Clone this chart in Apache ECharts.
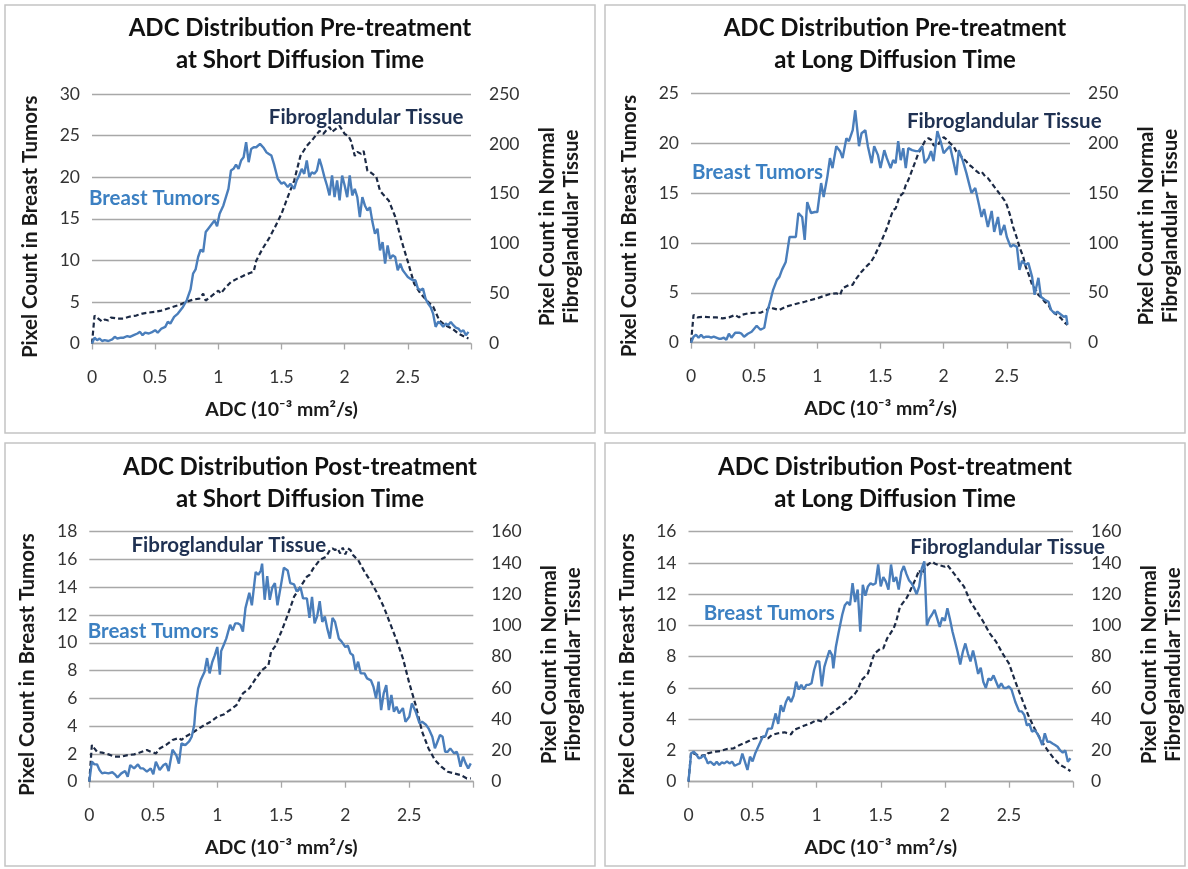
<!DOCTYPE html>
<html><head><meta charset="utf-8">
<script src="https://cdn.jsdelivr.net/npm/echarts@6/dist/echarts.min.js"></script>
<style>html,body{margin:0;padding:0;background:#fff}#c{width:1188px;height:869px}</style>
</head><body><div id="c"></div>
<script>
// ---- tick values for x axis (ADC, 10^-3 mm^2/s)
const xTicks = [0, 0.5, 1, 1.5, 2, 2.5, 3];

// ---- Panel 1: Pre-treatment, short diffusion time
const preShortTumor = [[0,0],[0.02,0.7],[0.04,0.4],[0.06,0.6],[0.08,0.3],[0.1,0.4],[0.13,0.3],[0.16,0.5],[0.18,0.8],[0.2,0.6],[0.23,0.7],[0.25,0.7],[0.28,0.9],[0.3,0.8],[0.33,1.0],[0.36,1.2],[0.38,1.4],[0.4,1.0],[0.42,1.3],[0.45,1.2],[0.48,1.4],[0.5,1.6],[0.52,1.3],[0.55,1.8],[0.58,2.0],[0.6,2.6],[0.62,2.4],[0.65,3.2],[0.68,3.6],[0.7,4.0],[0.72,4.4],[0.75,5.2],[0.78,6.5],[0.8,8.4],[0.82,8.9],[0.84,10.4],[0.86,11.3],[0.88,11.0],[0.9,13.4],[0.92,13.8],[0.95,14.4],[0.97,14.8],[0.99,14.1],[1.01,15.6],[1.04,16.6],[1.06,17.6],[1.08,18.6],[1.1,20.8],[1.12,21.0],[1.14,21.5],[1.16,21.0],[1.18,22.0],[1.2,22.4],[1.22,24.2],[1.24,21.8],[1.26,23.4],[1.28,23.6],[1.3,23.6],[1.33,24.0],[1.36,23.5],[1.38,23.0],[1.4,22.8],[1.42,22.6],[1.44,21.6],[1.47,19.8],[1.5,19.2],[1.52,19.4],[1.55,18.8],[1.57,19.2],[1.6,18.6],[1.62,19.6],[1.64,20.2],[1.66,21.0],[1.68,20.4],[1.7,22.0],[1.72,20.0],[1.74,20.6],[1.76,20.4],[1.78,20.8],[1.8,22.2],[1.82,21.2],[1.84,20.0],[1.86,19.0],[1.88,17.8],[1.9,20.2],[1.92,17.6],[1.94,19.6],[1.96,17.2],[1.98,20.2],[2.0,19.0],[2.02,17.6],[2.04,20.2],[2.06,17.8],[2.08,18.6],[2.1,17.6],[2.12,15.2],[2.14,17.6],[2.16,16.6],[2.18,16.0],[2.2,16.4],[2.22,14.6],[2.24,13.2],[2.26,13.8],[2.28,11.2],[2.3,12.2],[2.32,9.6],[2.34,11.8],[2.36,10.2],[2.38,10.6],[2.4,10.4],[2.42,8.8],[2.44,9.6],[2.46,8.8],[2.48,8.4],[2.5,8.0],[2.52,7.8],[2.54,7.6],[2.56,7.6],[2.58,6.6],[2.6,6.4],[2.62,6.6],[2.64,5.4],[2.66,4.8],[2.68,4.4],[2.7,3.6],[2.72,2.0],[2.74,2.6],[2.76,2.4],[2.78,2.0],[2.8,2.4],[2.82,2.2],[2.84,2.6],[2.86,2.2],[2.88,1.9],[2.9,1.8],[2.92,1.4],[2.94,1.6],[2.96,1.0],[2.98,1.4]];
const preShortFibro = [[0,0],[0.02,28],[0.05,25],[0.08,22],[0.1,24],[0.13,23],[0.15,26],[0.2,25],[0.25,25],[0.3,27],[0.35,28],[0.4,30],[0.45,31],[0.5,31.7],[0.55,33],[0.6,35],[0.65,37],[0.7,39],[0.75,42],[0.8,44],[0.85,45],[0.88,50],[0.9,43],[0.95,48],[1.0,53],[1.02,50],[1.05,55],[1.1,61.7],[1.15,65],[1.2,68],[1.25,70.7],[1.28,72],[1.3,83],[1.35,95],[1.4,105],[1.45,117],[1.5,130],[1.55,147],[1.6,163],[1.65,188],[1.7,198],[1.75,205],[1.8,213],[1.83,210],[1.85,213],[1.88,217],[1.9,212],[1.93,215],[1.96,218],[2.0,210],[2.03,208],[2.05,203],[2.08,188],[2.1,192],[2.13,190],[2.15,193],[2.18,173],[2.2,172],[2.25,167],[2.28,153],[2.3,150],[2.35,143],[2.4,127],[2.45,103],[2.5,82],[2.55,60],[2.6,50],[2.65,43],[2.7,37],[2.75,23],[2.8,18],[2.85,15],[2.9,10],[2.95,6.7],[2.98,5]];

// ---- Panel 2: Pre-treatment, long diffusion time
const preLongTumor = [[0,0],[0.02,0.6],[0.04,0.8],[0.06,0.5],[0.08,0.8],[0.1,0.5],[0.12,0.6],[0.14,0.6],[0.16,0.5],[0.18,0.6],[0.2,0.5],[0.22,0.4],[0.24,0.4],[0.26,0.5],[0.28,0.3],[0.3,0.9],[0.32,0.5],[0.35,1.0],[0.38,1.0],[0.4,0.9],[0.42,0.6],[0.45,0.9],[0.48,1.1],[0.5,1.4],[0.52,1.7],[0.55,1.3],[0.58,1.5],[0.6,2.9],[0.63,4.3],[0.65,5.3],[0.68,6.3],[0.7,6.6],[0.72,7.3],[0.75,8.1],[0.78,10.6],[0.8,10.6],[0.83,10.6],[0.85,13.0],[0.88,12.6],[0.9,10.3],[0.92,14.1],[0.95,13.0],[0.98,13.1],[1.0,13.1],[1.03,16.0],[1.05,14.6],[1.08,16.7],[1.1,18.5],[1.12,17.5],[1.15,19.7],[1.18,19.2],[1.2,18.5],[1.23,20.5],[1.25,20.2],[1.28,21.3],[1.3,23.3],[1.33,19.7],[1.35,21.0],[1.38,21.3],[1.4,19.7],[1.43,18.0],[1.45,19.7],[1.48,18.8],[1.5,17.5],[1.53,19.3],[1.55,18.5],[1.58,17.5],[1.6,18.3],[1.62,18.0],[1.64,20.2],[1.66,18.3],[1.68,19.5],[1.7,17.5],[1.72,19.5],[1.75,19.3],[1.78,19.2],[1.8,19.2],[1.83,19.7],[1.85,18.0],[1.88,18.5],[1.9,19.2],[1.92,18.2],[1.95,21.2],[1.98,20.0],[2.0,19.0],[2.02,19.3],[2.05,19.7],[2.08,18.0],[2.1,16.8],[2.12,19.3],[2.15,18.3],[2.18,17.0],[2.2,16.0],[2.22,15.0],[2.25,15.5],[2.28,13.8],[2.3,12.6],[2.32,13.4],[2.35,11.6],[2.38,13.2],[2.4,11.1],[2.43,12.6],[2.45,10.8],[2.48,11.8],[2.5,10.6],[2.53,9.6],[2.55,9.8],[2.58,9.6],[2.6,7.3],[2.62,8.2],[2.65,7.8],[2.67,8.0],[2.7,6.6],[2.72,4.8],[2.75,6.5],[2.77,4.6],[2.8,4.3],[2.83,4.1],[2.85,3.3],[2.88,2.9],[2.9,3.1],[2.93,2.8],[2.95,2.6],[2.97,2.7],[2.98,1.8]];
const preLongFibro = [[0,0],[0.02,27.8],[0.05,25.4],[0.1,26],[0.15,25.5],[0.2,25.4],[0.25,24.4],[0.3,25.4],[0.35,27.8],[0.38,25.4],[0.4,27.8],[0.45,29.4],[0.5,30],[0.55,30],[0.6,32.8],[0.62,36],[0.65,34.4],[0.7,32.8],[0.75,36],[0.8,37.8],[0.85,39.5],[0.9,41],[0.95,42.8],[1.0,44.5],[1.05,46.8],[1.1,48.8],[1.15,49.5],[1.18,47.8],[1.2,54.5],[1.25,57.9],[1.28,58],[1.3,62.9],[1.35,71.2],[1.4,78],[1.42,80],[1.45,86.3],[1.5,99.7],[1.55,114.7],[1.58,126],[1.6,133],[1.62,134.5],[1.65,146.5],[1.68,150],[1.7,158],[1.72,163],[1.75,173],[1.78,183],[1.8,190],[1.83,196.7],[1.85,201.7],[1.88,205],[1.9,203.5],[1.92,198],[1.95,196.7],[1.97,201.7],[2.0,206],[2.02,204],[2.05,200],[2.08,196.7],[2.1,191.6],[2.12,190],[2.15,185],[2.18,181.6],[2.2,178.3],[2.22,176.6],[2.25,173],[2.28,170],[2.3,171.5],[2.33,166.5],[2.35,165],[2.38,160],[2.4,156.5],[2.43,151.5],[2.45,148],[2.48,143],[2.5,138],[2.53,126],[2.55,116],[2.58,104.7],[2.6,96],[2.63,86],[2.65,76],[2.68,66],[2.7,58],[2.73,53],[2.75,47.8],[2.78,44.5],[2.8,41],[2.83,37.8],[2.85,32.8],[2.88,29.4],[2.9,27.8],[2.93,24.4],[2.95,21],[2.98,17.7]];

// ---- Panel 3: Post-treatment, short diffusion time
const postShortTumor = [[0,0],[0.02,1.44],[0.04,1.25],[0.06,1.25],[0.08,0.84],[0.1,0.6],[0.12,0.65],[0.15,0.6],[0.18,0.68],[0.2,0.53],[0.22,0.3],[0.25,0.6],[0.28,0.77],[0.3,0.36],[0.32,1.2],[0.35,0.96],[0.38,1.25],[0.4,0.96],[0.42,0.96],[0.45,0.72],[0.48,0.96],[0.5,0.53],[0.52,1.44],[0.55,0.84],[0.58,1.2],[0.6,1.3],[0.62,0.77],[0.65,2.3],[0.68,1.9],[0.7,1.3],[0.72,2.76],[0.75,2.64],[0.78,2.9],[0.8,3.24],[0.82,4.1],[0.83,5.3],[0.85,6.7],[0.87,7.3],[0.88,7.4],[0.9,7.9],[0.92,8.9],[0.94,7.8],[0.96,8.6],[0.98,9.1],[1.0,9.7],[1.02,7.7],[1.03,9.4],[1.05,9.84],[1.07,10.3],[1.1,11.3],[1.12,10.9],[1.14,11.4],[1.16,11.4],[1.18,11.3],[1.2,10.8],[1.22,12.5],[1.25,13.6],[1.27,12.7],[1.3,15.1],[1.32,14.9],[1.34,15.2],[1.35,15.7],[1.37,13.1],[1.39,14.8],[1.41,13.1],[1.43,14.0],[1.45,14.3],[1.47,12.7],[1.5,14.3],[1.52,15.4],[1.55,15.2],[1.57,14.3],[1.6,14.2],[1.62,13.7],[1.65,14.0],[1.67,13.2],[1.7,13.2],[1.72,11.8],[1.74,13.3],[1.76,11.4],[1.78,11.9],[1.8,13.0],[1.82,11.5],[1.84,11.9],[1.86,11.0],[1.88,10.3],[1.9,11.8],[1.92,11.5],[1.95,10.3],[1.97,10.1],[2.0,9.7],[2.02,9.8],[2.04,9.24],[2.06,9.1],[2.08,8.04],[2.1,8.64],[2.12,7.8],[2.15,7.8],[2.17,7.44],[2.2,7.3],[2.22,6.84],[2.24,6.0],[2.26,7.2],[2.28,5.16],[2.3,6.36],[2.32,6.96],[2.34,5.16],[2.36,6.24],[2.38,5.04],[2.4,5.4],[2.42,4.92],[2.45,5.3],[2.47,4.32],[2.5,4.68],[2.52,5.64],[2.55,5.04],[2.58,4.2],[2.6,4.32],[2.63,4.1],[2.65,3.84],[2.68,3.24],[2.7,2.4],[2.72,2.88],[2.74,3.36],[2.76,3.24],[2.78,2.16],[2.8,2.16],[2.82,2.4],[2.85,2.04],[2.87,2.16],[2.88,1.92],[2.9,1.08],[2.92,1.8],[2.94,1.32],[2.96,0.96],[2.98,1.32]];
const postShortFibro = [[0,0],[0.02,23.5],[0.03,23.5],[0.04,21.3],[0.06,19.2],[0.08,18.8],[0.1,18.6],[0.15,17.5],[0.2,16],[0.25,16],[0.3,17],[0.35,17.5],[0.4,18.8],[0.45,20.3],[0.48,19.2],[0.5,18.8],[0.52,18],[0.55,21.3],[0.6,23.5],[0.65,26.7],[0.7,28],[0.72,26.7],[0.75,28.8],[0.8,31],[0.85,33.7],[0.9,36.3],[0.95,38.4],[1.0,41.6],[1.05,43],[1.08,44.8],[1.1,45.9],[1.15,49],[1.2,56.5],[1.25,59.7],[1.3,66],[1.35,71.5],[1.4,74.7],[1.42,83.2],[1.45,86.4],[1.5,96],[1.55,106.7],[1.6,118.4],[1.65,124.8],[1.7,131.2],[1.72,132.3],[1.75,136.5],[1.8,141.9],[1.85,144],[1.88,148.3],[1.9,149.3],[1.92,148.3],[1.94,149.3],[1.96,146.1],[1.98,149.8],[2.0,145.5],[2.02,149.3],[2.04,148.3],[2.06,145.1],[2.08,143.4],[2.1,141.9],[2.15,134.4],[2.2,128],[2.25,120.5],[2.3,112],[2.35,101.3],[2.4,90.7],[2.45,79],[2.5,63],[2.55,49],[2.6,32],[2.65,21.3],[2.7,13.9],[2.75,9.6],[2.8,6.4],[2.85,5.3],[2.9,4.3],[2.95,2.1],[2.98,2.1]];

// ---- Panel 4: Post-treatment, long diffusion time
const postLongTumor = [[0,0],[0.02,1.8],[0.04,1.92],[0.06,1.75],[0.08,1.5],[0.1,1.55],[0.12,1.7],[0.14,1.4],[0.15,1.17],[0.17,1.28],[0.2,1.07],[0.22,1.28],[0.24,1.07],[0.26,1.24],[0.28,1.17],[0.3,1.3],[0.32,1.17],[0.34,1.28],[0.36,1.02],[0.38,1.1],[0.4,1.17],[0.42,1.8],[0.44,1.28],[0.46,0.75],[0.48,1.6],[0.5,1.3],[0.52,1.8],[0.55,2.35],[0.58,2.9],[0.6,2.9],[0.62,3.4],[0.65,3.4],[0.68,4.37],[0.7,3.7],[0.72,4.9],[0.74,4.48],[0.76,5.1],[0.78,5.44],[0.8,5.1],[0.82,5.5],[0.84,6.4],[0.86,5.9],[0.88,6.2],[0.9,5.9],[0.92,6.2],[0.94,6.2],[0.96,6.3],[0.98,7.15],[1.0,7.7],[1.02,7.7],[1.04,6.1],[1.06,7.35],[1.08,7.9],[1.1,8.4],[1.12,8.1],[1.13,7.25],[1.15,8.64],[1.17,9.5],[1.2,10.7],[1.22,11.3],[1.24,11.5],[1.26,11.3],[1.28,12.7],[1.3,11.5],[1.32,12.3],[1.34,9.6],[1.36,12.6],[1.38,11.9],[1.4,12.5],[1.42,12.7],[1.44,12.6],[1.46,12.7],[1.48,13.9],[1.5,12.5],[1.52,13.1],[1.54,12.8],[1.56,12.3],[1.58,13.9],[1.6,12.8],[1.62,13.1],[1.64,12.3],[1.66,13.4],[1.68,13.8],[1.7,13.3],[1.72,12.9],[1.74,12.7],[1.76,12.4],[1.78,12.0],[1.8,12.5],[1.82,13.65],[1.84,14.1],[1.86,10.0],[1.88,10.45],[1.9,10.7],[1.92,11.0],[1.94,10.45],[1.96,9.9],[1.98,10.5],[2.0,10.3],[2.02,11.1],[2.04,10.4],[2.06,9.6],[2.08,8.96],[2.1,8.3],[2.12,7.5],[2.14,8.3],[2.16,8.85],[2.18,8.2],[2.2,7.7],[2.22,8.4],[2.24,7.7],[2.26,6.9],[2.28,7.3],[2.3,6.4],[2.32,6.0],[2.34,6.6],[2.36,6.5],[2.38,6.8],[2.4,6.4],[2.42,6.0],[2.44,6.3],[2.46,6.0],[2.48,6.0],[2.5,6.1],[2.52,5.9],[2.55,5.1],[2.58,4.5],[2.6,4.5],[2.62,4.27],[2.64,3.6],[2.66,3.7],[2.68,3.2],[2.7,3.3],[2.72,3.1],[2.74,2.77],[2.76,2.35],[2.78,3.1],[2.8,2.56],[2.82,2.56],[2.84,2.45],[2.86,2.35],[2.88,2.24],[2.9,2.0],[2.92,1.86],[2.94,2.0],[2.96,1.28],[2.98,1.5]];
const postLongFibro = [[0,0],[0.02,18.8],[0.04,18.1],[0.06,17.5],[0.08,16.6],[0.1,16.6],[0.12,17],[0.14,16.6],[0.15,18.1],[0.2,19.2],[0.25,19.6],[0.3,20.9],[0.35,21.3],[0.4,23.5],[0.45,25.2],[0.5,27.3],[0.55,28.2],[0.6,28.8],[0.62,27.7],[0.65,29.9],[0.7,31],[0.75,31.6],[0.8,30.3],[0.82,33],[0.85,34.1],[0.9,35.8],[0.95,37.3],[1.0,39.5],[1.05,38.4],[1.08,41.6],[1.1,42.7],[1.15,45.9],[1.2,49],[1.25,52.3],[1.3,56.5],[1.32,58.7],[1.35,65],[1.4,69.3],[1.45,82],[1.5,85.3],[1.52,85.3],[1.55,91.7],[1.6,98],[1.62,102.4],[1.65,112],[1.7,117.3],[1.72,120.5],[1.75,125.9],[1.78,131.2],[1.8,135.5],[1.82,132.3],[1.85,137.6],[1.88,139.7],[1.9,140.8],[1.92,139.7],[1.95,138.7],[2.0,137.6],[2.02,138.7],[2.05,135.5],[2.1,130.1],[2.15,124.8],[2.2,115.2],[2.25,108.8],[2.3,102.4],[2.35,94.9],[2.4,89.6],[2.45,82.1],[2.5,75.7],[2.55,64],[2.6,53.3],[2.65,42.7],[2.7,34.1],[2.75,26.7],[2.8,20.3],[2.85,14.9],[2.9,10.7],[2.95,8.5],[2.98,6.8]];

// ---- axis ranges [max, interval] for left / right axes
const leftAxisMax = [30, 25, 18, 16];
const leftAxisStep = [5, 5, 2, 2];
const rightAxisMax = [250, 250, 160, 160];
const rightAxisStep = [50, 50, 20, 20];

const titles = [
  'ADC Distribution Pre-treatment\nat Short Diffusion Time',
  'ADC Distribution Pre-treatment\nat Long Diffusion Time',
  'ADC Distribution Post-treatment\nat Short Diffusion Time',
  'ADC Distribution Post-treatment\nat Long Diffusion Time'
];
const tumorSeries = [preShortTumor, preLongTumor, postShortTumor, postLongTumor];
const fibroSeries = [preShortFibro, preLongFibro, postShortFibro, postLongFibro];
// label anchor positions in data units: [x, y(left axis)] and [x, y(right axis)]
const tumorLabelAt = [[0.495, 17.5], [0.526, 17.1], [0.5, 10.8], [0.63, 10.78]];
const fibroLabelAt = [[2.17, 226.5], [2.48, 221.5], [1.09, 151], [2.49, 150]];

// ---- layout (pixels)
const grids = [
  {left: 92, top: 94, width: 379, height: 249.5},
  {left: 691, top: 93.3, width: 379, height: 249.4},
  {left: 89.3, top: 531.7, width: 384, height: 250},
  {left: 688.5, top: 531.7, width: 384.5, height: 250}
];
const panels = [
  {x: 5, y: 5, w: 590, h: 428},
  {x: 605, y: 5, w: 580, h: 428},
  {x: 5, y: 443, w: 590, h: 423},
  {x: 605, y: 443, w: 580, h: 423}
];
const titleTop = [12, 12, 451, 451];

const FONT = 'Lato, "Open Sans", sans-serif';
const TUMOR = '#4a7ebb';
const TUMOR_TXT = '#3c80c2';
const FIBRO = '#1c2a45';
const GRIDC = '#a8a8a8';

const option = {
  animation: false,
  backgroundColor: '#fff',
  textStyle: {fontFamily: FONT},
  grid: grids.map(g => Object.assign({containLabel: false}, g)),
  xAxis: grids.map((g, i) => ({
    type: 'value', gridIndex: i, min: xTicks[0], max: xTicks[xTicks.length - 1], interval: 0.5,
    name: 'ADC (10\u207B\u00B3 mm\u00B2/s)', nameLocation: 'middle', nameGap: 56,
    nameTextStyle: {fontSize: 19.5, fontWeight: 'bold', color: '#1a1a1a', fontFamily: FONT},
    axisLine: {show: true, lineStyle: {color: GRIDC, width: 1.3}},
    axisTick: {show: true, length: 6, inside: false, lineStyle: {color: GRIDC, width: 1.3}},
    axisLabel: {margin: 25, fontSize: 17.5, color: '#333', fontFamily: FONT,
      formatter: v => (v === 3 ? '' : String(v))},
    splitLine: {show: false}
  })),
  yAxis: [],
  series: [],
  graphic: []
};

grids.forEach((g, i) => {
  option.yAxis.push({
    type: 'value', gridIndex: i, position: 'left', min: 0, max: leftAxisMax[i], interval: leftAxisStep[i],
    name: 'Pixel Count in Breast Tumors', nameLocation: 'middle', nameGap: 51,
    nameTextStyle: {fontSize: 20.5, fontWeight: 'bold', color: '#1a1a1a', fontFamily: FONT, padding: [0, 16, 0, 0]},
    axisLine: {show: false}, axisTick: {show: false},
    axisLabel: {margin: 12, fontSize: 17.5, color: '#333', fontFamily: FONT},
    splitLine: {show: true, lineStyle: {color: GRIDC, width: 1.3}}
  });
  option.yAxis.push({
    type: 'value', gridIndex: i, position: 'right', min: 0, max: rightAxisMax[i], interval: rightAxisStep[i],
    name: 'Pixel Count in Normal\nFibroglandular Tissue', nameLocation: 'middle', nameGap: 64,
    nameTextStyle: {fontSize: 20.5, fontWeight: 'bold', color: '#1a1a1a', fontFamily: FONT, lineHeight: 24, padding: [0, 16, 0, 0]},
    axisLine: {show: false}, axisTick: {show: false},
    axisLabel: {margin: 18, fontSize: 17.5, color: '#333', fontFamily: FONT},
    splitLine: {show: false}
  });
  option.series.push({
    type: 'line', xAxisIndex: i, yAxisIndex: 2 * i, data: tumorSeries[i],
    showSymbol: false, symbol: 'none', z: 3,
    lineStyle: {color: TUMOR, width: 2.4}, itemStyle: {color: TUMOR},
    markPoint: {symbol: 'circle', symbolSize: 0, silent: true,
      label: {show: true, position: 'inside', formatter: 'Breast Tumors', color: TUMOR_TXT,
        fontSize: 20.5, fontWeight: 'bold', fontFamily: FONT},
      data: [{coord: tumorLabelAt[i]}]}
  });
  option.series.push({
    type: 'line', xAxisIndex: i, yAxisIndex: 2 * i + 1, data: fibroSeries[i],
    showSymbol: false, symbol: 'none', z: 2,
    lineStyle: {color: FIBRO, width: 2.2, type: [5, 3]}, itemStyle: {color: FIBRO},
    markPoint: {symbol: 'circle', symbolSize: 0, silent: true,
      label: {show: true, position: 'inside', formatter: 'Fibroglandular Tissue', color: '#1f3152',
        fontSize: 20.5, fontWeight: 'bold', fontFamily: FONT},
      data: [{coord: fibroLabelAt[i]}]}
  });
  const p = panels[i];
  option.graphic.push({type: 'rect', silent: true, z: -1,
    shape: {x: p.x, y: p.y, width: p.w, height: p.h},
    style: {fill: 'none', stroke: '#c4c4c4', lineWidth: 1.5}});
  option.graphic.push({type: 'text', silent: true, x: p.x + p.w / 2, y: titleTop[i],
    style: {text: titles[i], align: 'center', verticalAlign: 'top', fill: '#111',
      font: 'bold 24px ' + FONT, lineHeight: 32}});
});

const chart = echarts.init(document.getElementById('c'), null, {renderer: 'canvas'});
chart.setOption(option);
</script></body></html>
